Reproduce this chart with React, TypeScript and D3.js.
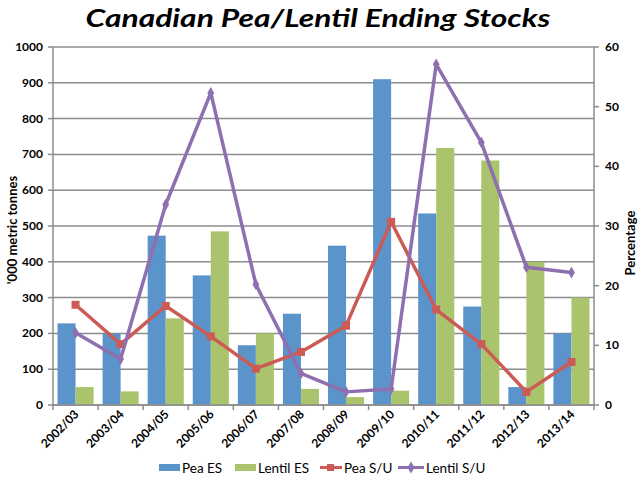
import * as d3 from 'd3'

const years = ['2002/03', '2003/04', '2004/05', '2005/06', '2006/07', '2007/08', '2008/09', '2009/10', '2010/11', '2011/12', '2012/13', '2013/14']
const peaES = [228, 200, 473, 362, 167, 255, 445, 910, 535, 275, 50, 200]
const lentilES = [50, 38, 242, 485, 200, 45, 22, 40, 718, 683, 400, 300]
const peaSU = [16.8, 10.2, 16.6, 11.5, 6.1, 8.9, 13.3, 30.7, 16.0, 10.2, 2.2, 7.2]
const lentilSU = [12.1, 7.7, 33.6, 52.3, 20.2, 5.3, 2.2, 2.7, 57.1, 44.0, 23.1, 22.2]
const leftTicks = [0, 100, 200, 300, 400, 500, 600, 700, 800, 900, 1000]
const rightTicks = [0, 10, 20, 30, 40, 50, 60]

const BLUE = '#5b93cb'
const GREEN = '#a9c46c'
const RED = '#cd5b55'
const PURPLE = '#8e70b0'
const GRID = '#8c8c8c'
const FONT = 'Lato, "Open Sans", sans-serif'

const left = 53
const right = 594
const top = 47
const bottom = 405

export default function App() {
  const x = d3.scaleBand<string>().domain(years).range([left, right]).padding(0)
  const inner = d3.scaleBand<string>().domain(['pea', 'lentil']).range([0, x.bandwidth()]).paddingInner(0).paddingOuter(0.25)
  const yL = d3.scaleLinear().domain([0, 1000]).range([bottom, top])
  const yR = d3.scaleLinear().domain([0, 60]).range([bottom, top])
  const cx = (i: number) => (x(years[i]) as number) + x.bandwidth() / 2

  const line = d3.line<number>().x((_, i) => cx(i)).y((d) => yR(d))

  const diamond = d3.symbol().type(d3.symbolDiamond).size(40)()

  return (
    <svg width={640} height={480} style={{ position: 'absolute', left: 0, top: 0, background: '#fff' }} fontFamily={FONT}>
      <text x={318} y={27} textAnchor="middle" fontSize={25} fontWeight="bold" fontStyle="italic" textLength={465} lengthAdjust="spacingAndGlyphs">
        Canadian Pea/Lentil Ending Stocks
      </text>

      {/* gridlines */}
      {leftTicks.map((t) => (
        <line key={'g' + t} x1={left} x2={right} y1={yL(t)} y2={yL(t)} stroke={GRID} strokeWidth={1.5} />
      ))}

      {/* bars */}
      {years.map((yr, i) => (
        <g key={yr}>
          <rect x={(x(yr) as number) + (inner('pea') as number)} y={yL(peaES[i])} width={inner.bandwidth()} height={bottom - yL(peaES[i])} fill={BLUE} />
          <rect x={(x(yr) as number) + (inner('lentil') as number)} y={yL(lentilES[i])} width={inner.bandwidth()} height={bottom - yL(lentilES[i])} fill={GREEN} />
        </g>
      ))}

      {/* axes */}
      <line x1={left} x2={left} y1={top} y2={bottom} stroke={GRID} strokeWidth={1.5} />
      <line x1={right} x2={right} y1={top} y2={bottom} stroke={GRID} strokeWidth={1.5} />
      <line x1={left} x2={right} y1={bottom} y2={bottom} stroke={GRID} strokeWidth={1.5} />
      {leftTicks.map((t) => (
        <g key={'l' + t}>
          <line x1={left - 5} x2={left} y1={yL(t)} y2={yL(t)} stroke={GRID} strokeWidth={1.5} />
          <text x={43} y={yL(t) + 4} textAnchor="end" fontSize={12} fontWeight="bold">{t}</text>
        </g>
      ))}
      {rightTicks.map((t) => (
        <g key={'r' + t}>
          <line x1={right} x2={right + 5} y1={yR(t)} y2={yR(t)} stroke={GRID} strokeWidth={1.5} />
          <text x={605} y={yR(t) + 4} textAnchor="start" fontSize={12} fontWeight="bold">{t}</text>
        </g>
      ))}
      {d3.range(years.length + 1).map((i) => (
        <line key={'xt' + i} x1={left + i * x.step()} x2={left + i * x.step()} y1={bottom} y2={bottom + 5} stroke={GRID} strokeWidth={1.5} />
      ))}
      {years.map((yr, i) => (
        <text key={'xl' + yr} transform={`translate(${cx(i) + 4},${bottom + 10}) rotate(-45)`} textAnchor="end" fontSize={12} fontWeight="bold">
          {yr}
        </text>
      ))}

      <text transform={`translate(17,230) rotate(-90)`} textAnchor="middle" fontSize={13} fontWeight="bold">'000 metric tonnes</text>
      <text transform={`translate(635,243) rotate(-90)`} textAnchor="middle" fontSize={13} fontWeight="bold">Percentage</text>

      {/* lines */}
      <path d={line(peaSU) as string} fill="none" stroke={RED} strokeWidth={3.5} strokeLinejoin="round" />
      {peaSU.map((v, i) => (
        <rect key={'pm' + i} x={cx(i) - 4} y={yR(v) - 4} width={8} height={8} fill={RED} />
      ))}
      <path d={line(lentilSU) as string} fill="none" stroke={PURPLE} strokeWidth={3.5} strokeLinejoin="round" />
      {lentilSU.map((v, i) => (
        <path key={'lm' + i} d={diamond as string} transform={`translate(${cx(i)},${yR(v)})`} fill={PURPLE} />
      ))}

      {/* legend */}
      <g fontSize={13.5}>
        <rect x={159} y={464} width={21} height={7} fill={BLUE} />
        <text x={182} y={472.5}>Pea ES</text>
        <rect x={235} y={464} width={21} height={7} fill={GREEN} />
        <text x={258} y={472.5}>Lentil ES</text>
        <line x1={320} x2={342} y1={467.5} y2={467.5} stroke={RED} strokeWidth={3} />
        <rect x={327} y={464} width={7} height={7} fill={RED} />
        <text x={344} y={472.5}>Pea S/U</text>
        <line x1={398} x2={424} y1={467.5} y2={467.5} stroke={PURPLE} strokeWidth={3} />
        <path d={diamond as string} transform="translate(411,467.5)" fill={PURPLE} />
        <text x={426} y={472.5}>Lentil S/U</text>
      </g>
    </svg>
  )
}
